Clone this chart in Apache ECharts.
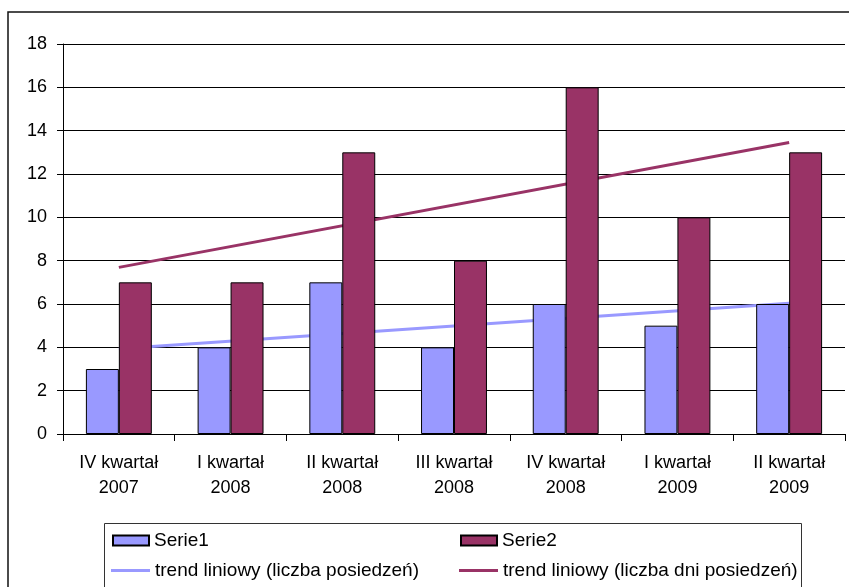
<!DOCTYPE html>
<html>
<head>
<meta charset="utf-8">
<script src="https://cdn.jsdelivr.net/npm/echarts@6/dist/echarts.min.js"></script>
<style>
html,body{margin:0;padding:0;background:#fff;}
#c{width:849px;height:587px;}
</style>
</head>
<body>
<div id="c"></div>
<script>
var categories = ['IV kwartał\n2007','I kwartał\n2008','II kwartał\n2008','III kwartał\n2008','IV kwartał\n2008','I kwartał\n2009','II kwartał\n2009'];
var serie1 = [3, 4, 7, 4, 6, 5, 6];
var serie2 = [7, 7, 13, 8, 16, 10, 13];
// trend lines: [category index, value] at start and end
var trend1 = [[0, 3.94], [6, 6.04]];
var trend2 = [[0, 7.69], [6, 13.45]];
var yTicks = {min: 0, max: 18, interval: 2};

var names = ['Serie1', 'Serie2', 'trend liniowy (liczba posiedzeń)', 'trend liniowy (liczba dni posiedzeń)'];
var font = 'Liberation Sans, Arial, sans-serif';
var legendText = {fontFamily: font, fontSize: 19, lineHeight: 18, color: '#000'};

function legendItem(name, left, top, isLine) {
  return {
    data: [{name: name, icon: 'rect'}],
    orient: 'horizontal', left: left, top: top,
    padding: 0, itemGap: 0,
    itemWidth: isLine ? 39 : 36, itemHeight: isLine ? 3 : 10,
    textStyle: legendText
  };
}

var chart = echarts.init(document.getElementById('c'), null, {renderer: 'canvas'});
chart.setOption({
  animation: false,
  backgroundColor: '#fff',
  textStyle: {fontFamily: font, color: '#000'},
  grid: {left: 63, right: 4, top: 44, bottom: 153},
  graphic: [
    {type: 'rect', shape: {x: 8, y: 12, width: 860, height: 600}, style: {fill: null, stroke: '#111', lineWidth: 1.5}, z: -1},
    {type: 'rect', shape: {x: 104.5, y: 523.5, width: 697, height: 80}, style: {fill: null, stroke: '#333', lineWidth: 1}, z: 10}
  ],
  legend: [
    legendItem(names[0], 112, 531, false),
    legendItem(names[2], 111, 561, true),
    legendItem(names[1], 460, 531, false),
    legendItem(names[3], 459, 561, true)
  ],
  xAxis: {
    type: 'category',
    data: categories,
    boundaryGap: true,
    axisLine: {lineStyle: {color: '#000', width: 1}},
    axisTick: {show: true, length: 7, inside: false, lineStyle: {color: '#000'}, alignWithLabel: false},
    axisLabel: {fontFamily: font, fontSize: 18, color: '#000', margin: 17, lineHeight: 25, interval: 0},
    splitLine: {show: false}
  },
  yAxis: {
    type: 'value',
    min: yTicks.min, max: yTicks.max, interval: yTicks.interval,
    axisLine: {show: true, lineStyle: {color: '#000', width: 1}},
    axisTick: {show: true, length: 6, lineStyle: {color: '#000'}},
    axisLabel: {fontFamily: font, fontSize: 18, color: '#000', margin: 16},
    splitLine: {show: true, lineStyle: {color: '#000', width: 1}}
  },
  series: [
    {
      name: names[0], type: 'bar', data: serie1,
      barGap: '0%', barCategoryGap: '41%', z: 3,
      itemStyle: {color: '#9999FF', borderColor: '#000', borderWidth: 1}
    },
    {
      name: names[1], type: 'bar', data: serie2,
      barGap: '0%', barCategoryGap: '41%', z: 3,
      itemStyle: {color: '#993366', borderColor: '#000', borderWidth: 1}
    },
    {
      name: names[2], type: 'line', data: trend1, symbol: 'none', showSymbol: false, z: 2,
      lineStyle: {color: '#9999FF', width: 3}, itemStyle: {color: '#9999FF', borderWidth: 0}
    },
    {
      name: names[3], type: 'line', data: trend2, symbol: 'none', showSymbol: false, z: 2,
      lineStyle: {color: '#993366', width: 3}, itemStyle: {color: '#993366', borderWidth: 0}
    }
  ]
});
</script>
</body>
</html>
